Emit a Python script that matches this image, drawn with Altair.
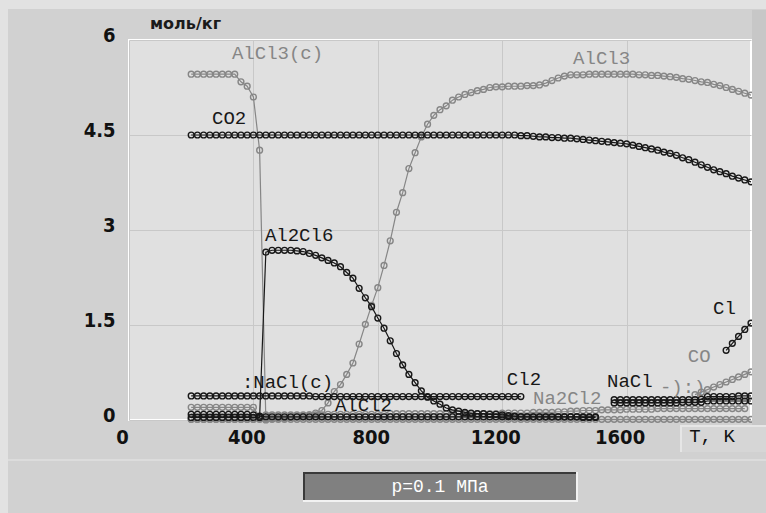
import altair as alt
import pandas as pd

BLACK = "#181818"
GRAY = "#868686"
STEP = 20  # K between computed states

# ---------------- series values (mol/kg), one value every STEP kelvin from start T ----------------
CO2_T0 = 200
CO2 = [
    4.5, 4.5, 4.5, 4.5, 4.5, 4.5, 4.5, 4.5, 4.5, 4.5,
    4.5, 4.5, 4.5, 4.5, 4.5, 4.5, 4.5, 4.5, 4.5, 4.5,
    4.5, 4.5, 4.5, 4.5, 4.5, 4.5, 4.5, 4.5, 4.5, 4.5,
    4.5, 4.5, 4.5, 4.5, 4.5, 4.5, 4.5, 4.5, 4.5, 4.5,
    4.5, 4.5, 4.5, 4.5, 4.5, 4.5, 4.5, 4.5, 4.5, 4.5,
    4.5, 4.5, 4.5,
    4.49, 4.49, 4.48, 4.47, 4.47, 4.46, 4.46, 4.45, 4.45, 4.44,
    4.43, 4.42, 4.41, 4.40, 4.39, 4.38, 4.37, 4.36, 4.34, 4.32,
    4.30, 4.28, 4.26, 4.23, 4.21, 4.18, 4.14, 4.11, 4.07, 4.03,
    3.99, 3.95, 3.92, 3.89, 3.85, 3.82, 3.79, 3.76,
]

ALCL3_T0 = 200
ALCL3 = [
    0.01, 0.01, 0.01, 0.01, 0.01, 0.01, 0.01, 0.01, 0.01, 0.01,
    0.01, 0.02, 0.02, 0.02, 0.03, 0.03, 0.04, 0.05, 0.06, 0.08,
    0.11, 0.15, 0.27, 0.45, 0.56, 0.72, 0.90, 1.20, 1.51, 1.81,
    2.09, 2.44, 2.83, 3.28, 3.59, 3.97, 4.22, 4.47, 4.67, 4.81,
    4.90, 4.96, 5.05, 5.10, 5.14, 5.17, 5.20, 5.22, 5.25, 5.26,
    5.26, 5.27, 5.27, 5.27, 5.28, 5.28, 5.29, 5.32, 5.36, 5.40,
    5.43, 5.45, 5.45, 5.45, 5.46, 5.46, 5.46, 5.46, 5.46, 5.46,
    5.46, 5.46, 5.45, 5.45, 5.44, 5.44, 5.43, 5.42, 5.41, 5.39,
    5.38, 5.36, 5.34, 5.33, 5.30, 5.28, 5.25, 5.22, 5.19, 5.16,
    5.13,
]

ALCL3C_T0 = 200
ALCL3C = [5.46, 5.46, 5.46, 5.46, 5.46, 5.46, 5.46, 5.46, 5.34, 5.27, 5.10, 4.26, 0.0]

AL2CL6_T0 = 200
AL2CL6 = [
    0.04, 0.04, 0.04, 0.04, 0.04, 0.04, 0.04, 0.04, 0.04, 0.04,
    0.04, 0.04,
    2.65, 2.68, 2.68, 2.68, 2.68, 2.67, 2.66, 2.63, 2.60, 2.56,
    2.52, 2.48, 2.42, 2.33, 2.24, 2.08, 1.93, 1.79, 1.61, 1.45,
    1.25, 1.05, 0.87, 0.72, 0.59, 0.46, 0.36, 0.30, 0.25, 0.19,
    0.16, 0.14, 0.12, 0.11, 0.10, 0.10, 0.09, 0.09, 0.08, 0.07,
    0.06, 0.05, 0.05, 0.05, 0.05, 0.05, 0.05, 0.05, 0.05, 0.05,
    0.05, 0.04, 0.04, 0.04,
]

NACLC_T0 = 200
NACLC = [
    0.38, 0.38, 0.38, 0.38, 0.38, 0.38, 0.38, 0.38, 0.38, 0.38,
    0.38, 0.38, 0.38, 0.38, 0.38, 0.38, 0.38, 0.38, 0.38, 0.38,
    0.37, 0.37, 0.37, 0.37, 0.37, 0.37, 0.37, 0.37, 0.37, 0.37,
    0.37, 0.37, 0.37, 0.37, 0.37, 0.37, 0.37, 0.37, 0.37, 0.37,
    0.37, 0.37, 0.37, 0.37, 0.37, 0.37, 0.37, 0.37, 0.37, 0.37,
    0.37, 0.37, 0.37, 0.37,
]

ALCL2_T0 = 200
ALCL2 = [
    0.09, 0.09, 0.09, 0.09, 0.09, 0.09, 0.09, 0.09, 0.09, 0.09,
    0.08, 0.06, 0.05, 0.05, 0.05, 0.05, 0.05, 0.05, 0.05, 0.05,
    0.05, 0.05, 0.05, 0.05, 0.05, 0.05, 0.05, 0.05, 0.05, 0.05,
    0.05, 0.05, 0.05, 0.05, 0.05, 0.05, 0.05, 0.05, 0.05, 0.05,
    0.05, 0.05, 0.05, 0.05, 0.05, 0.05, 0.05, 0.05, 0.05, 0.05,
    0.05, 0.05, 0.05, 0.05, 0.05, 0.05, 0.05, 0.05, 0.05, 0.05,
    0.05, 0.05, 0.05, 0.05, 0.05, 0.05,
]

LOWG_T0 = 200
LOWG = [0.20, 0.20, 0.20, 0.20, 0.20, 0.20, 0.20, 0.20, 0.20, 0.20, 0.20, 0.05, 0.02]

NA2CL2_T0 = 440
NA2CL2 = [
    0.08, 0.08, 0.08, 0.08, 0.08, 0.08, 0.08, 0.08, 0.08, 0.08,
    0.09, 0.09, 0.09, 0.09, 0.09, 0.09, 0.09, 0.09, 0.09, 0.09,
    0.10, 0.10, 0.10, 0.10, 0.10, 0.10, 0.10, 0.10, 0.10, 0.10,
    0.10, 0.10, 0.10, 0.10, 0.10, 0.10, 0.10, 0.10, 0.11, 0.11,
    0.11, 0.11, 0.11, 0.12, 0.12, 0.12, 0.12, 0.13, 0.13, 0.14,
    0.14, 0.15, 0.15, 0.15, 0.16, 0.16, 0.16, 0.16, 0.17, 0.17,
    0.17, 0.17, 0.17, 0.18, 0.18, 0.18, 0.18, 0.18, 0.18, 0.18,
    0.18, 0.18, 0.18, 0.18, 0.18, 0.18, 0.18, 0.18,
]

BASE_T0 = 200
BASE = [
    0.01, 0.01, 0.01, 0.01, 0.01, 0.01, 0.01, 0.01, 0.01, 0.01,
    0.01, 0.01, 0.01, 0.01, 0.01, 0.01, 0.01, 0.01, 0.01, 0.01,
    0.01, 0.01, 0.01, 0.01, 0.01, 0.01, 0.01, 0.01, 0.01, 0.01,
    0.01, 0.01, 0.01, 0.01, 0.01, 0.01, 0.01, 0.01, 0.01, 0.01,
    0.01, 0.01, 0.01, 0.01, 0.01, 0.01, 0.01, 0.01, 0.01, 0.01,
    0.01, 0.01, 0.01, 0.01, 0.01, 0.01, 0.01, 0.01, 0.01, 0.01,
    0.01, 0.01, 0.01, 0.01, 0.01, 0.01, 0.01, 0.01, 0.01, 0.01,
    0.01, 0.01, 0.01, 0.01, 0.01, 0.01, 0.01, 0.01, 0.01, 0.01,
    0.01, 0.01, 0.01, 0.01, 0.01, 0.01, 0.01, 0.01, 0.01, 0.01,
    0.01,
]

NACL_T0 = 1560
NACL = [0.32, 0.32, 0.32, 0.32, 0.32, 0.32, 0.32, 0.32, 0.32, 0.32,
        0.32, 0.32, 0.32, 0.32, 0.33, 0.37, 0.37, 0.37, 0.37, 0.37,
        0.38, 0.38, 0.38]

CL2_T0 = 1560
CL2 = [0.27, 0.27, 0.27, 0.27, 0.27, 0.27, 0.27, 0.27, 0.27, 0.27,
       0.27, 0.28, 0.28, 0.28, 0.28, 0.30, 0.30, 0.30, 0.30, 0.30,
       0.30, 0.30, 0.30]

CO_T0 = 1820
CO = [0.40, 0.44, 0.48, 0.52, 0.56, 0.60, 0.64, 0.68, 0.72, 0.76]

CL_T0 = 1920
CL = [1.10, 1.21, 1.32, 1.43, 1.53]

GRAY_SERIES = [
    ("base", BASE_T0, BASE),
    ("Na2Cl2", NA2CL2_T0, NA2CL2),
    ("lowg", LOWG_T0, LOWG),
    ("AlCl3(c)", ALCL3C_T0, ALCL3C),
    ("AlCl3", ALCL3_T0, ALCL3),
    ("CO", CO_T0, CO),
]
BLACK_SERIES = [
    ("AlCl2", ALCL2_T0, ALCL2),
    ("Al2Cl6", AL2CL6_T0, AL2CL6),
    ("NaCl(c)", NACLC_T0, NACLC),
    ("Cl2", CL2_T0, CL2),
    ("NaCl", NACL_T0, NACL),
    ("CO2", CO2_T0, CO2),
    ("Cl", CL_T0, CL),
]

# ---------------- curve labels ----------------
LABEL_TEXT = ["AlCl3(c)", "CO2", "AlCl3", "Al2Cl6", ":NaCl(c)", "AlCl2", "Cl2", "Na2Cl2", "NaCl", "-):)", "Cl", "CO"]
LABEL_T = [331, 267, 1428, 437, 363, 662, 1215, 1299, 1537, 1707, 1878, 1797]
LABEL_V = [5.79, 4.77, 5.72, 2.92, 0.60, 0.24, 0.65, 0.35, 0.62, 0.52, 1.77, 1.01]
LABEL_TONE = [GRAY, BLACK, GRAY, BLACK, BLACK, BLACK, BLACK, GRAY, BLACK, GRAY, BLACK, GRAY]

X_TICKS = [0, 400, 800, 1200, 1600]
Y_TICKS = [0, 1.5, 3, 4.5, 6]


def frame(series, colour):
    rows = []
    for name, t0, vals in series:
        for i, v in enumerate(vals):
            rows.append({"series": name, "T": t0 + STEP * i, "v": v, "col": colour})
    return pd.DataFrame(rows)


gray_df = frame(GRAY_SERIES, GRAY)
black_df = frame(BLACK_SERIES, BLACK)
labels_df = pd.DataFrame({"label": LABEL_TEXT, "T": LABEL_T, "v": LABEL_V, "col": LABEL_TONE})

TICK_FONT = "Liberation Sans Narrow, DejaVu Sans Condensed, Liberation Sans"
MONO = "Liberation Mono"

x_enc = alt.X(
    "T:Q",
    scale=alt.Scale(domain=[0, 2000], nice=False, zero=False),
    axis=alt.Axis(values=X_TICKS, format="d", grid=True, gridColor="#c8c8c8", domain=False, ticks=False,
                  labelFont=TICK_FONT, labelFontSize=20, labelFontWeight="bold", labelColor="#111111",
                  labelPadding=7, labelOffset=-7, labelFlush=False, title=None),
)
y_enc = alt.Y(
    "v:Q",
    scale=alt.Scale(domain=[0, 6], nice=False, zero=False),
    axis=alt.Axis(values=Y_TICKS, format="~g", grid=True, gridColor="#c8c8c8", domain=False, ticks=False,
                  labelFont=TICK_FONT, labelFontSize=20, labelFontWeight="bold", labelColor="#111111",
                  labelPadding=14, labelOffset=-5, labelFlush=False,
                  title="моль/кг", titleAngle=0, titleX=56, titleY=-17, titleAlign="center",
                  titleBaseline="middle", titleFont="DejaVu Sans", titleFontSize=16,
                  titleFontWeight="bold", titleColor="#1b1b1b"),
)


def curves(df):
    return alt.Chart(df).mark_line(
        strokeWidth=1.2,
        point=alt.OverlayMarkDef(filled=False, size=34, strokeWidth=1.4),
    ).encode(x=x_enc, y=y_enc, color=alt.Color("col:N", scale=None), detail="series:N")


labels = alt.Chart(labels_df).mark_text(
    align="left", baseline="middle", font=MONO, fontSize=19
).encode(x=alt.X("T:Q"), y=alt.Y("v:Q"), text="label:N", color=alt.Color("col:N", scale=None))

ONE = pd.DataFrame({"k": [0]})
OX, OY = 129, 40


def box(x1, y1, x2, y2, fill):
    return alt.Chart(ONE).mark_rect(fill=fill).encode(
        x=alt.value(x1 - OX), x2=alt.value(x2 - OX), y=alt.value(y1 - OY), y2=alt.value(y2 - OY)
    )


def label_px(text, x, y, colour, font, size):
    return alt.Chart(ONE).mark_text(align="center", baseline="middle", font=font, fontSize=size, color=colour).encode(
        x=alt.value(x - OX), y=alt.value(y - OY), text=alt.value(text)
    )


chrome = [
    box(0, 0, 766, 9, "#e2e2e2"),
    box(0, 0, 8, 513, "#e2e2e2"),
    box(752, 10, 766, 425, "#c7c7c7"),
    box(8, 459, 766, 461, "#dcdcdc"),
    box(680, 425, 766, 452, "#e6e6e6"),
    box(682, 427, 766, 452, "#d6d6d6"),
    box(303, 472, 578, 502, "#f2f2f2"),
    box(303, 472, 576, 500, "#3a3a3a"),
    box(305, 474, 576, 500, "#808080"),
    label_px("T, K", 712, 436, "#111111", MONO, 19),
    label_px("p=0.1 МПа", 440, 487, "#ffffff", MONO, 18),
]

chart = alt.layer(
    curves(gray_df), curves(black_df), labels, *chrome
).properties(
    width=622, height=380,
    padding={"left": OX, "top": OY, "right": 15, "bottom": 93},
    autosize=alt.AutoSizeParams(type="none"),
    background="#d1d1d1",
).configure_view(fill="#e0e0e0", stroke="#ffffff", strokeWidth=2)

chart.save("out.html", embed_options={"renderer": "svg", "actions": False})
